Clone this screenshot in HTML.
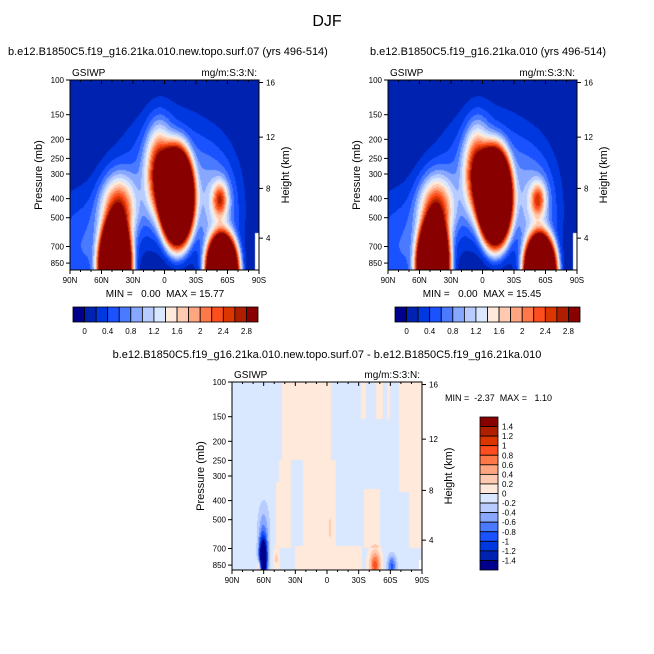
<!DOCTYPE html>
<html><head><meta charset="utf-8">
<style>
body{margin:0;background:#fff;}
#wrap{position:relative;width:654px;height:654px;overflow:hidden;font-family:"Liberation Sans",sans-serif;}
canvas{position:absolute;}
svg{position:absolute;left:0;top:0;}
svg text{white-space:pre;}
</style></head>
<body>
<div id="wrap">
<canvas id="c1"></canvas>
<canvas id="c2"></canvas>
<canvas id="c3"></canvas>
<svg id="ov" width="654" height="654"></svg>
</div>
<script>
// ---- data ----
const palette = ["#00008c","#0022b0","#0038e0","#1a52ff","#4a7aff","#88a8ff","#b8ccff","#d9e8ff","#ffe9da","#ffcab0","#ffa680","#ff7848","#ff4e1e","#dc3600","#b01e00","#880000"];
const levelsAbs = [0,0.2,0.4,0.6,0.8,1,1.2,1.4,1.6,1.8,2,2.2,2.4,2.6,2.8];
const levelsDiff = [-1.4,-1.2,-1,-0.8,-0.6,-0.4,-0.2,0,0.2,0.4,0.6,0.8,1,1.2,1.4];
const labelsAbs = ["0","0.4","0.8","1.2","1.6","2","2.4","2.8"];
const labelsDiff = ["1.4","1.2","1","0.8","0.6","0.4","0.2","0","-0.2","-0.4","-0.6","-0.8","-1","-1.2","-1.4"];
const latTicks = [90,60,30,0,-30,-60,-90];
const latTickLabels = ["90N","60N","30N","0","30S","60S","90S"];
const presTicks = [100,150,200,250,300,400,500,700,850];
const heightTicks = [16,12,8,4];
const heightTickP = [103,195,355,635];
// blobs: lat, pressure(mb), amplitude, lat width, log-p width, shape exponent
const blobLat1 = [47, 44, 75, -12, 5, -5, -55, -50, -53];
const blobP1   = [900, 470, 700, 400, 300, 300, 950, 500, 405];
const blobAmp1 = [5, 2.6, 0.6, 5, 2.5, 0.9, 5, 0.9, 1.7];
const blobAmp2 = [5, 2.6, 0.6, 5, 2.5, 0.9, 5, 0.9, 1.6];
const blobSL1  = [14, 11, 25, 14, 8, 30, 14, 15, 5];
const blobSV1  = [0.2, 0.12, 0.2, 0.22, 0.15, 0.2, 0.17, 0.2, 0.06];
const blobQ1   = [2, 1, 1, 2, 1, 1, 2, 1, 1];
const blobLatD = [60.5, 60, 64, -45.5, -61.5, 48, -3];
const blobPD   = [790, 560, 880, 850, 860, 790, 550];
const blobAmpD = [-2.4, -0.45, 0.9, 0.95, -0.8, 0.3, 0.2];
const blobSLD  = [2.6, 4, 1.5, 3.5, 3, 2, 1];
const blobSVD  = [0.07, 0.1, 0.03, 0.05, 0.04, 0.04, 0.04];
// positive bands in difference field: north lat, south lat, top p, bottom p
const bandN = [43, 48, 23, -35, 30, -32, -46, -57, -68, -78, 45];
const bandS = [-4, 34, -9, -50, -33, -37, -53, -60, -90, -90, 34];
const bandT = [100, 320, 250, 350, 680, 100, 100, 100, 100, 360, 250];
const bandB = [250, 700, 700, 700, 900, 155, 155, 155, 360, 700, 320];
const diffMin = "-2.37", diffMax = "1.10";
const min1 = "0.00", max1 = "15.77", min2 = "0.00", max2 = "15.45";

const SVGNS="http://www.w3.org/2000/svg";
const ov=document.getElementById('ov');
function el(tag,attrs,parent){const e=document.createElementNS(SVGNS,tag);for(const k in attrs)e.setAttribute(k,attrs[k]);(parent||ov).appendChild(e);return e;}
function txt(x,y,s,size,anchor,name,rot){const t=el('text',{x:x,y:y,'font-size':size,'text-anchor':anchor||'start',fill:'#000','font-family':'Liberation Sans, sans-serif'});
 if(rot)t.setAttribute('transform','rotate(-90 '+x+' '+y+')');
 
 
 t.textContent=s;return t;}

function classify(v,levels){let i=0;while(i<levels.length&&v>=levels[i])i++;return i;}

function fieldAbs(lat,lp,amps){let v=0;for(let i=0;i<blobLat1.length;i++){const dx=(lat-blobLat1[i])/blobSL1[i],dy=(lp-Math.log10(blobP1[i]))/blobSV1[i];v+=amps[i]*Math.exp(-Math.pow(dx*dx+dy*dy,blobQ1[i])/2);}return v;}
function fieldDiff(lat,p,lp){let v=-0.05;for(let i=0;i<bandN.length;i++){if(lat<=bandN[i]&&lat>=bandS[i]&&p>=bandT[i]&&p<=bandB[i])v=0.1;}
 for(let i=0;i<blobLatD.length;i++){const dx=(lat-blobLatD[i])/blobSLD[i],dy=(lp-Math.log10(blobPD[i]))/blobSVD[i];v+=blobAmpD[i]*Math.exp(-(dx*dx+dy*dy)/2);}return v;}

function panel(cid,x0,y0,w,h,kind,amps,levels){
 const cv=document.getElementById(cid);cv.width=w;cv.height=h;cv.style.left=x0+'px';cv.style.top=y0+'px';
 const ctx=cv.getContext('2d');const img=ctx.createImageData(w,h);
 const rgb=palette.map(c=>[parseInt(c.slice(1,3),16),parseInt(c.slice(3,5),16),parseInt(c.slice(5,7),16)]);
 for(let j=0;j<h;j++){const lp=2+(j+0.5)/197;const p=Math.pow(10,lp);
  for(let i=0;i<w;i++){const lat=90-(i+0.5)/w*180;let k=-1;
   if(kind==='abs'){ if(lat<-86&&p>600)k=-1; else k=classify(fieldAbs(lat,lp,amps),levels);}
   else { if(lat<-87&&p>800)k=-1; else k=classify(fieldDiff(lat,p,lp),levels);}
   const o=(j*w+i)*4;const c=k<0?[255,255,255]:rgb[k];img.data[o]=c[0];img.data[o+1]=c[1];img.data[o+2]=c[2];img.data[o+3]=255;}}
 ctx.putImageData(img,0,0);
}

function axes(x0,y0,w,h,pre,leftTitle,rightTitle){
 const xOf=lat=>x0+(90-lat)/180*w, yOf=p=>y0+(Math.log10(p)-2)*197;
 el('rect',{x:x0,y:y0,width:w,height:h,fill:'none',stroke:'#000','stroke-width':1});
 for(let lat=-90;lat<=90;lat+=10){const x=xOf(lat),maj=lat%30===0;
  el('line',{x1:x,y1:y0,x2:x,y2:y0+(maj?4:2),stroke:'#000'});el('line',{x1:x,y1:y0+h,x2:x,y2:y0+h+(maj?4:2),stroke:'#000'});}
 latTicks.forEach((l,i)=>txt(xOf(l),y0+h+13,latTickLabels[i],8,'middle',pre+'-x-tick-label'));
 presTicks.forEach(p=>{const y=yOf(p);el('line',{x1:x0-4,y1:y,x2:x0,y2:y,stroke:'#000'});txt(x0-6,y+3,String(p),8,'end',pre+'-y-tick-label');});
 heightTicks.forEach((hk,i)=>{const y=yOf(heightTickP[i]);el('line',{x1:x0+w,y1:y,x2:x0+w+4,y2:y,stroke:'#000'});txt(x0+w+7,y+3,String(hk),8,'start',pre+'-height-tick-label');});
 txt(x0-28,y0+h/2,'Pressure (mb)',11,'middle',pre+'-y-axis-title',true);
 txt(x0+w+30,y0+h/2,'Height (km)',11,'middle',pre+'-height-axis-title',true);
 txt(x0+2,y0-4,leftTitle,10,'start',pre+'-variable-label');
 txt(x0+w-2,y0-4,rightTitle,10,'end',pre+'-units-label');
}

function hbar(x0,y0,w,h,pre){const bw=w/palette.length;
 palette.forEach((c,i)=>{const r=el('rect',{x:x0+i*bw,y:y0,width:bw,height:h,fill:c,stroke:'#000','stroke-width':0.8});
  });
 labelsAbs.forEach((s,i)=>txt(x0+(1+2*i)*bw,y0+h+12,s,8,'middle',pre+'-colorbar-label'));}
function vbar(x0,y0,w,h,pre){const bh=h/palette.length;
 palette.slice().reverse().forEach((c,i)=>{const r=el('rect',{x:x0,y:y0+i*bh,width:w,height:bh,fill:c,stroke:'#000','stroke-width':0.8});
  });
 labelsDiff.forEach((s,i)=>txt(x0+w+4,y0+(i+1)*bh+3,s,8,'start',pre+'-colorbar-label'));}

panel('c1',70,80,189,190,'abs',blobAmp1,levelsAbs);
panel('c2',388,80,189,190,'abs',blobAmp2,levelsAbs);
panel('c3',232,382,190,188,'diff',null,levelsDiff);

txt(327,26,'DJF',16,'middle','figure-title');
txt(8,55,'b.e12.B1850C5.f19_g16.21ka.010.new.topo.surf.07 (yrs 496-514)',11,'start','left-panel-title');
txt(370,55,'b.e12.B1850C5.f19_g16.21ka.010 (yrs 496-514)',11,'start','right-panel-title');
axes(70,80,189,190,'left','GSIWP','mg/m:S:3:N:');
axes(388,80,189,190,'right','GSIWP','mg/m:S:3:N:');
txt(165,297,'MIN =   '+min1+'  MAX = '+max1,10,'middle','left-min-max');
txt(482,297,'MIN =   '+min2+'  MAX = '+max2,10,'middle','right-min-max');
hbar(73,307,185,15,'left');
hbar(395,307,185,15,'right');
txt(327,358,'b.e12.B1850C5.f19_g16.21ka.010.new.topo.surf.07 - b.e12.B1850C5.f19_g16.21ka.010',11,'middle','difference-panel-title');
axes(232,382,190,188,'diff','GSIWP','mg/m:S:3:N:');
txt(445,401,'MIN =  '+diffMin+'  MAX =   '+diffMax,9,'start','diff-min-max');
vbar(480,417,18,153,'diff');
</script>
</body></html>
